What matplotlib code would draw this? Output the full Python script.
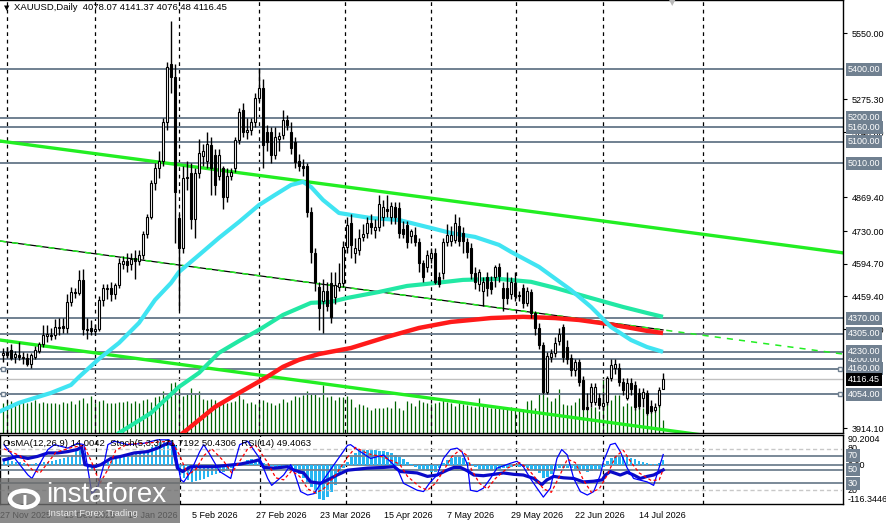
import matplotlib
matplotlib.use('Agg')
import matplotlib.pyplot as plt
from matplotlib.transforms import blended_transform_factory
from matplotlib.patches import Rectangle, Circle

plt.rcParams['font.family'] = ['Liberation Sans', 'DejaVu Sans']

# ---- XAUUSD daily candles (open, high, low, close) ----
opens = [4217, 4230, 4238, 4210, 4215, 4205, 4205, 4180, 4210, 4235,
         4262, 4296, 4300, 4300, 4330, 4337, 4330, 4437, 4478, 4474,
         4528, 4325, 4330, 4318, 4325, 4445, 4490, 4495, 4470, 4505,
         4595, 4605, 4595, 4620, 4605, 4630, 4720, 4790, 4930, 4990,
         5020, 5180, 5420, 5370, 4785, 4660, 4950, 4970, 4780, 4970,
         5040, 5020, 5087, 5045, 4960, 4990, 4870, 4960, 4990, 5107,
         5232, 5141, 5150, 5180, 5281, 5323, 5141, 5141, 5045, 5110,
         5130, 5190, 5140, 5100, 5020, 5000, 5000, 4810, 4640, 4500,
         4440, 4480, 4515, 4457, 4500, 4515, 4664, 4764, 4640, 4650,
         4705, 4722, 4764, 4735, 4745, 4790, 4820, 4790, 4830, 4826,
         4740, 4755, 4710, 4715, 4685, 4598, 4580, 4620, 4640, 4540,
         4557, 4685, 4690, 4693, 4750, 4722, 4685, 4660, 4557, 4510,
         4480, 4540, 4520, 4540, 4580, 4495, 4495, 4470, 4515, 4465,
         4495, 4433, 4478, 4391, 4329, 4259, 4064, 4210, 4226, 4275,
         4333, 4250, 4205, 4155, 4188, 4114, 4000, 4023, 4023, 4040,
         4005, 4023, 4122, 4165, 4163, 4106, 4040, 4100, 4093, 4060,
         4040, 4060, 4005, 3990, 4010, 4078.07]
highs = [4245, 4250, 4262, 4235, 4270, 4230, 4225, 4225, 4255, 4270,
         4340, 4340, 4330, 4365, 4370, 4370, 4470, 4500, 4495, 4570,
         4575, 4370, 4360, 4345, 4460, 4510, 4510, 4520, 4515, 4620,
         4625, 4640, 4640, 4650, 4650, 4730, 4800, 4940, 5010, 5060,
         5200, 5430, 5600, 5420, 4800, 5000, 5020, 5010, 4990, 5110,
         5090, 5140, 5120, 5070, 5070, 5000, 4990, 4990, 5120, 5240,
         5260, 5200, 5200, 5300, 5405, 5360, 5170, 5160, 5160, 5140,
         5230, 5210, 5180, 5120, 5050, 5030, 5010, 4830, 4660, 4520,
         4530, 4520, 4560, 4560, 4600, 4690, 4790, 4800, 4700, 4740,
         4760, 4790, 4800, 4780, 4880, 4860, 4880, 4850, 4850, 4850,
         4770, 4770, 4740, 4745, 4700, 4610, 4650, 4660, 4660, 4560,
         4700, 4760, 4750, 4800, 4790, 4745, 4700, 4680, 4580, 4575,
         4540, 4560, 4545, 4590, 4600, 4520, 4560, 4540, 4560, 4480,
         4510, 4500, 4490, 4400, 4350, 4270, 4230, 4240, 4290, 4330,
         4345, 4280, 4220, 4200, 4200, 4130, 4060, 4100, 4100, 4060,
         4060, 4130, 4200, 4200, 4185, 4120, 4120, 4120, 4110, 4080,
         4080, 4070, 4030, 4020, 4085, 4141.37]
lows = [4190, 4205, 4195, 4185, 4195, 4180, 4170, 4165, 4200, 4225,
        4250, 4270, 4280, 4285, 4300, 4310, 4310, 4420, 4455, 4465,
        4300, 4285, 4300, 4300, 4315, 4420, 4450, 4440, 4450, 4495,
        4575, 4560, 4570, 4530, 4590, 4615, 4700, 4780, 4900, 4950,
        5000, 5150, 5300, 4680, 4404, 4640, 4900, 4740, 4700, 4950,
        5000, 4990, 4880, 4880, 4940, 4820, 4850, 4940, 4975, 5090,
        5120, 5110, 5130, 5160, 5270, 4990, 5060, 5010, 5030, 5060,
        5110, 5150, 5050, 4990, 4980, 4960, 4790, 4600, 4480, 4320,
        4308, 4400, 4350, 4430, 4480, 4500, 4640, 4620, 4600, 4630,
        4690, 4700, 4720, 4700, 4730, 4750, 4790, 4760, 4760, 4700,
        4700, 4660, 4680, 4670, 4560, 4520, 4560, 4600, 4510, 4500,
        4530, 4670, 4670, 4680, 4670, 4640, 4620, 4530, 4490, 4480,
        4420, 4460, 4470, 4500, 4520, 4400, 4430, 4450, 4440, 4440,
        4410, 4420, 4370, 4300, 4240, 4055, 4055, 4190, 4210, 4260,
        4190, 4180, 4130, 4130, 4090, 3990, 3990, 4000, 4010, 3995,
        3990, 4010, 4110, 4140, 4090, 4050, 4030, 4050, 3990, 3995,
        4000, 3970, 3975, 3980, 4000, 4076.48]
closes = [4226, 4215, 4205, 4222, 4210, 4210, 4180, 4215, 4238, 4262,
          4298, 4302, 4296, 4333, 4335, 4327, 4437, 4478, 4474, 4528,
          4325, 4320, 4318, 4325, 4445, 4495, 4495, 4470, 4505, 4600,
          4605, 4590, 4615, 4605, 4630, 4720, 4790, 4930, 4990, 5020,
          5180, 5410, 5370, 4890, 4660, 4950, 4955, 4780, 4970, 5055,
          5060, 5090, 4990, 4921, 5045, 4870, 4960, 4975, 5107, 5223,
          5141, 5150, 5180, 5281, 5323, 5087, 5100, 5045, 5120, 5125,
          5190, 5170, 5075, 5016, 5000, 4990, 4810, 4644, 4520, 4412,
          4480, 4420, 4375, 4507, 4515, 4664, 4755, 4673, 4660, 4702,
          4720, 4764, 4745, 4745, 4842, 4830, 4815, 4835, 4790, 4722,
          4720, 4685, 4730, 4685, 4598, 4540, 4630, 4640, 4520, 4510,
          4685, 4714, 4714, 4764, 4690, 4690, 4644, 4557, 4520, 4560,
          4520, 4495, 4490, 4580, 4545, 4453, 4453, 4520, 4460, 4460,
          4433, 4480, 4391, 4329, 4259, 4064, 4213, 4225, 4267, 4305,
          4209, 4200, 4155, 4190, 4106, 3994, 3995, 4085, 4085, 4010,
          4020, 4122, 4176, 4180, 4106, 4072, 4100, 4075, 4002, 4005,
          4065, 3977, 3985, 4000, 4072, 4116.45]

# tick volume (thousands)
volume = [30, 33, 32, 30, 30, 32, 30, 31, 33, 30,
          31, 30, 30, 30, 29, 31, 30, 32, 29, 33,
          35, 30, 37, 30, 32, 33, 30, 30, 30, 31,
          31, 32, 30, 32, 30, 33, 34, 31, 36, 37,
          42, 38, 50, 51, 48, 37, 40, 45, 39, 42,
          34, 33, 34, 33, 30, 32, 30, 31, 32, 38,
          34, 30, 31, 29, 32, 33, 31, 30, 28, 30,
          34, 31, 33, 37, 36, 38, 42, 40, 39, 36,
          48, 36, 37, 33, 36, 36, 37, 34, 26, 29,
          28, 26, 23, 25, 25, 25, 26, 25, 32, 25,
          23, 32, 30, 27, 33, 31, 30, 29, 30, 31,
          33, 31, 30, 27, 30, 29, 28, 27, 26, 35,
          27, 26, 25, 25, 25, 25, 24, 26, 25, 22,
          24, 32, 33, 25, 40, 43, 36, 32, 35, 44,
          29, 28, 28, 31, 35, 33, 33, 26, 26, 22,
          56, 33, 33, 38, 38, 27, 30, 27, 25, 30,
          25, 22, 25, 22, 30, 13]

# moving averages (bar index, price)
ma_fast_idx = [-1, 4, 12, 17, 19, 24, 29, 34, 38, 42, 44, 49, 54, 59, 64, 68, 72, 75,
               77, 80, 84, 92, 99, 107, 112, 118, 124, 127, 134, 142, 147, 152, 157, 161, 165]
ma_fast = [3982, 4019, 4060, 4093, 4126, 4201, 4267, 4350, 4445, 4515, 4561, 4631, 4702,
           4768, 4838, 4880, 4921, 4934, 4913, 4859, 4805, 4784, 4776, 4743, 4722, 4706,
           4673, 4644, 4582, 4486, 4416, 4333, 4279, 4250, 4230]
ma_mid_idx = [27, 29, 37, 44, 49, 54, 59, 64, 70, 77, 82, 86, 94, 101, 108, 115, 124,
              132, 138, 147, 155, 161, 165]
ma_mid = [3865, 3894, 3977, 4085, 4143, 4226, 4275, 4321, 4383, 4433, 4437, 4453, 4478,
          4503, 4515, 4528, 4532, 4520, 4495, 4453, 4416, 4391, 4375]
ma_slow_idx = [43, 45, 53, 59, 66, 70, 74, 79, 87, 96, 104, 112, 122, 130, 138, 144,
               151, 157, 161, 165]
ma_slow = [3865, 3894, 4002, 4060, 4126, 4168, 4197, 4221, 4246, 4292, 4329, 4354, 4370,
           4375, 4370, 4362, 4346, 4329, 4317, 4308]

# trend channel (bar index, price)
trend_idx = [-0.75, 210]
trend_upper = [5103, 4640]
trend_middle = [4689, 4221]
trend_lower = [4279, 3807]

levels = [4200, 5400, 5200, 5160, 5100, 5010, 4370, 4305, 4230, 4160, 4054]
last_price = 4116.45
price_ticks = [5550.00, 5275.30, 5140.00, 4869.40, 4730.00, 4594.70,
               4459.40, 4324.10, 3914.10]
grid_idx = [1, 23, 44, 64, 85.5, 107, 128.25, 150, 175]
date_idx = [-1, 15, 31, 47, 63, 79, 95, 111, 127, 143, 159]
date_labels = ['27 Nov 2025', '19 Dec 2025', '14 Jan 2026', '5 Feb 2026', '27 Feb 2026',
               '23 Mar 2026', '15 Apr 2026', '7 May 2026', '29 May 2026', '22 Jun 2026',
               '14 Jul 2026']

# OsMA(12,26,9) histogram
osma = [12, 14, 13, 10, 8, 6, 4, 3, 5, 7,
        8, 10, 12, 15, 18, 22, 25, 30, 42, 55,
        35, -8, -12, -10, -4, 4, 10, 14, 18, 22,
        25, 27, 30, 33, 36, 42, 48, 55, 60, 68,
        72, 78, 75, 60, -30, -40, -45, -50, -48, -45,
        -42, -35, -30, -28, -25, -22, -18, -10, -2, 5,
        10, 14, 18, 15, 12, 5, 0, -3, -5, -6,
        -5, -8, -12, -20, -28, -38, -50, -65, -85, -100,
        -105, -95, -80, -60, -30, -10, 10, 25, 35, 42,
        45, 45, 44, 45, 43, 42, 40, 35, 30, 25,
        18, 10, 2, -5, -12, -15, -18, -20, -20, -10,
        5, 15, 20, 23, 23, 20, 10, 2, -5, -12,
        -15, -18, -18, -15, -12, -10, -8, -5, -4, -5,
        -5, -8, -12, -18, -25, -40, -35, -28, -18, -10,
        -8, -8, -10, -12, -15, -18, -20, -18, -15, -12,
        -5, 12, 22, 27, 28, 27, 25, 20, 17, 13,
        10, 5, 3, 2, 5, 14.0042]

# Stochastic(5,3,3) main and signal (bar index, value)
stoch_idx = [0, 3.4, 6, 7, 9.7, 11, 12.6, 16, 18.4, 20, 22, 23.4, 25, 26, 27.6, 31, 35,
             38.4, 41.3, 42.6, 44.25, 45, 46.75, 49, 50, 51.3, 54, 56.75, 57.6, 59, 61, 64,
             66, 67, 70, 71.75, 72.6, 74.25, 76, 77.6, 79, 82.6, 86, 86.75, 88.4, 91.75, 95,
             98.4, 100, 103.4, 105, 106.75, 108.4, 110, 111.75, 113.4, 114.6, 116, 116.75,
             118.4, 120, 121.75, 123.4, 126.75, 128.4, 130, 131.75, 133.4, 135, 136.75,
             138.4, 139.6, 141, 142.6, 144.25, 146, 147.6, 149.25, 150, 151.75, 153, 154.25,
             156, 157.6, 161, 162.6, 163.4, 165]
stoch_main = [86, 61, 42, 37, 66, 79, 86, 81, 88, 86, 15, 23, 57, 86, 91, 86, 88,
              93, 93, 86, 35, 32, 47, 76, 86, 74, 47, 37, 57, 86, 91, 66,
              37, 27, 42, 57, 47, 18, 13, 15, 27, 57, 85, 86, 79, 66, 71,
              52, 30, 20, 18, 32, 42, 66, 79, 81, 76, 57, 20,
              18, 23, 37, 52, 59, 62, 54, 37, 23, 10, 23,
              66, 79, 71, 37, 18, 13, 18, 42, 61, 86, 88, 76,
              52, 37, 32, 27, 42, 71.7192]
signal_idx = [0, 4, 7, 9, 11, 13, 17, 20, 22, 24, 26, 28, 31, 35, 39, 42, 44, 46, 48, 50,
              52, 55, 57, 59, 61, 63, 66, 68, 70, 72, 74, 76, 78, 80, 83, 86, 88, 91, 95,
              99, 101, 104, 106, 108, 110, 112, 114, 116, 117, 119, 121, 123, 126, 129, 131,
              133, 135, 137, 139, 141, 143, 145, 147, 149, 151, 153, 155, 157, 159, 162, 164,
              165]
stoch_signal = [80, 70, 50, 45, 60, 75, 82, 85, 60, 30, 50, 78, 87, 88, 90, 91, 70, 42, 50,
                70, 80, 62, 45, 62, 80, 85, 60, 38, 35, 48, 40, 22, 16, 22, 42, 68, 82, 73,
                68, 58, 40, 25, 20, 30, 48, 68, 78, 70, 50, 30, 22, 37, 52, 60, 52, 38, 22,
                17, 40, 65, 60, 35, 17, 22, 42, 68, 78, 60, 45, 34, 35, 50.4306]

# RSI(14) (bar index, value)
rsi_idx = [0, 3.4, 6, 8.4, 11, 13.4, 16, 18.4, 19.4, 20.25, 22.6, 24.25, 26.75, 29.25,
           32.6, 36, 38.4, 41, 42.2, 43.4, 44.7, 46.75, 52.6, 59.25, 62.6, 63.8, 65, 67.6,
           71, 72.6, 75, 76.75, 79.25, 81.75, 83.4, 86, 91, 95, 97.6, 99.25, 103.4, 106,
           108.4, 110.9, 112.6, 114.25, 116, 117.6, 120, 122.6, 125, 127.6, 130, 132.6,
           134.6, 135.9, 137.6, 140, 142.6, 145, 147.6, 149.75, 150.5, 151.75, 154.25, 156,
           157.6, 159.25, 161, 162.6, 164.25, 165]
rsi = [64, 69, 66, 69, 74, 74, 76, 79, 83, 57, 54, 57, 66, 69,
       74, 76, 81, 88, 86, 52, 47, 54, 54, 58, 62, 64, 53, 52,
       54, 49, 45, 32, 30, 37, 42, 49, 52, 53, 54, 47, 45, 40,
       42, 49, 53, 53, 48, 42, 41, 43, 45, 43, 42, 37,
       28, 35, 40, 38, 37, 32, 33, 35, 42, 47, 42, 46,
       42, 37, 40, 42, 47, 49.4063]

stoch_levels = [70, 50, 30]
stoch_dotted = [80, 20]
osma_range = (-116.3446, 90.2004)

W, H = 887, 523
fig = plt.figure(figsize=(W / 100, H / 100), dpi=100)
fig.patch.set_facecolor('white')

# ---------------- main price panel ----------------
ax = fig.add_axes([0, 1 - 433 / H, 843 / W, 433 / H])
axv = ax.twinx()
axv.set_zorder(ax.get_zorder() - 1)
ax.patch.set_visible(False)
axv.set_ylim(0, 433)
axv.set_axis_off()
bars = list(range(len(closes)))
axv.vlines(bars, 0, volume, color='#006400', lw=0.9)

ax.set_xlim(-0.75, 210)
ax.set_ylim(3894, 5687)
for g in grid_idx:
    ax.axvline(g, color='black', lw=0.9, ls=(0, (3, 3)), zorder=1)

for lv in levels:
    ax.axhline(lv, color='#708090', lw=1.4, zorder=1.5)
ax.axhline(last_price, color='#c0c0c0', lw=1, zorder=1.5)
for lv in (4160, 4054):
    ax.plot([0.1, 209.3], [lv, lv], ls='none', marker='s', ms=3.5, mfc='white',
            mec='#708090', mew=1, clip_on=False, zorder=3)

ax.plot(trend_idx, trend_upper, color='#22ee22', lw=2.4, zorder=2)
ax.plot(trend_idx, trend_lower, color='#22ee22', lw=2.4, zorder=2)
ax.plot([trend_idx[0], 165], [trend_middle[0],
        trend_middle[0] + (trend_middle[1] - trend_middle[0]) * (165.75 / 210.75)],
        color='black', lw=0.9, zorder=2)
ax.plot(trend_idx, trend_middle, color='#22ee22', lw=1.1, ls=(0, (4, 4)), zorder=2.1)

ax.plot(ma_mid_idx, ma_mid, color='#22e8a4', lw=3, zorder=3, solid_capstyle='butt')
ax.plot(ma_slow_idx, ma_slow, color='#ff1a1a', lw=3.2, zorder=3, solid_capstyle='butt')
ax.plot(ma_fast_idx, ma_fast, color='#40e4f2', lw=3, zorder=3, solid_capstyle='butt')

body_lo = [min(o, c) for o, c in zip(opens, closes)]
body_h = [max(abs(c - o), 2.5) for o, c in zip(opens, closes)]
body_col = ['white' if c >= o else 'black' for o, c in zip(opens, closes)]
ax.vlines(bars, lows, highs, color='black', lw=1, zorder=4)
ax.bar(bars, body_h, bottom=body_lo, width=0.72, color=body_col, edgecolor='black',
       lw=0.8, zorder=5)

ax.yaxis.tick_right()
ax.set_yticks(price_ticks)
ax.set_yticklabels(['%.2f' % t for t in price_ticks])
ax.tick_params(axis='y', labelsize=6.5, length=3, pad=3, colors='black')
ax.set_xticks([])
for s in ax.spines.values():
    s.set_color('black')
    s.set_linewidth(1)
ax.spines['left'].set_visible(False)

tr = blended_transform_factory(ax.transAxes, ax.transData)
for lv in levels:
    ax.text(1 + 5 / 843, lv, '%.2f' % lv, transform=tr, fontsize=6.5, color='white',
            va='center', ha='left', zorder=10,
            bbox=dict(boxstyle='square,pad=0.22', fc='#708090', ec='none'))
ax.text(1 + 5 / 843, last_price, '%.2f' % last_price, transform=tr, fontsize=6.5,
        color='white', va='center', ha='left', zorder=11,
        bbox=dict(boxstyle='square,pad=0.22', fc='black', ec='none'))

fig.text(4 / W, 1 - 8 / H, '\u25bc', fontsize=5, color='black', va='center', ha='left',
         family=['DejaVu Sans'])
fig.text(14 / W, 1 - 8 / H,
         'XAUUSD,Daily  %.2f %.2f %.2f %.2f' % (opens[-1], highs[-1], lows[-1], closes[-1]),
         fontsize=6.8, color='black', va='center', ha='left')
fig.text(672 / W, 1 - 3 / H, '\u25bc', fontsize=6, color='#b8b8b8', va='center',
         ha='center', family=['DejaVu Sans'])

# ---------------- indicator panel ----------------
ax2 = fig.add_axes([0, 1 - 504 / H, 843 / W, 69 / H])
ax2.set_xlim(-0.75, 210)
ax2.set_ylim(*osma_range)
ax2.bar(bars, osma, width=0.62, color='#27b6f2', zorder=2)
ax2.axhline(0, color='#708090', lw=1.3, zorder=1.5)
for g in grid_idx:
    ax2.axvline(g, color='black', lw=0.9, ls=(0, (3, 3)), zorder=1)
ax2.set_yticks([])
ax2.set_xticks(date_idx)
ax2.set_xticklabels(date_labels)
ax2.tick_params(axis='x', labelsize=6.5, length=0, pad=5)
for lbl in ax2.get_xticklabels():
    lbl.set_ha('left')
for s in ax2.spines.values():
    s.set_color('black')
    s.set_linewidth(1)

ax3 = ax2.twinx()
ax3.set_ylim(0, 100)
ax3.set_axis_off()
for lv in stoch_dotted:
    ax3.axhline(lv, color='#c8c8c8', lw=1, ls=(0, (3, 2)), zorder=1)
for lv in stoch_levels:
    ax3.axhline(lv, color='#708090', lw=1.3, zorder=1)
ax3.plot(rsi_idx, rsi, color='#0a0ac8', lw=2.3, zorder=3)
ax3.plot(stoch_idx, stoch_main, color='#0000ff', lw=0.9, zorder=4)
ax3.plot(signal_idx, stoch_signal, color='#ff0000', lw=0.9, ls=(0, (2.5, 2)), zorder=4)

tr2 = blended_transform_factory(ax2.transAxes, ax2.transData)
tr3 = blended_transform_factory(ax3.transAxes, ax3.transData)
ax2.text(1 + 5 / 843, osma_range[1], '%.4f' % osma_range[1], transform=tr2, fontsize=6.5,
         va='top', ha='left')
ax2.text(1 + 5 / 843, osma_range[0], '%.4f' % osma_range[0], transform=tr2, fontsize=6.5,
         va='bottom', ha='left')
ax2.text(1 + 5 / 843, 0, '0.00', transform=tr2, fontsize=6.5, va='center', ha='left')
for lv in stoch_dotted:
    ax3.text(1 + 5 / 843, lv, '%d' % lv, transform=tr3, fontsize=6.5, va='center', ha='left')
for lv in stoch_levels:
    ax3.text(1 + 5 / 843, lv, '%d' % lv, transform=tr3, fontsize=6.5, color='white',
             va='center', ha='left', zorder=10,
             bbox=dict(boxstyle='square,pad=0.2', fc='#708090', ec='none'))
ax3.text(3 / 843, 0.88, 'OsMA(12,26,9) %.4f  Stoch(5,3,3) %.4f %.4f  RSI(14) %.4f'
         % (osma[-1], stoch_main[-1], stoch_signal[-1], rsi[-1]), transform=ax3.transAxes,
         fontsize=6.8, va='center', ha='left', zorder=6)

# ---------------- watermark ----------------
fig.patches.append(Rectangle((0, 0), 180 / W, 45 / H, transform=fig.transFigure,
                             fc='#6e6e6e', ec='none', alpha=0.8, zorder=20))
fig.patches.append(Circle((24 / W, 1 - 499 / H), 14 / W, transform=fig.transFigure,
                          fc='none', ec='white', lw=3.2, zorder=21))
fig.text(24 / W, 1 - 500 / H, 'i', fontsize=15, fontweight='bold', color='white',
         ha='center', va='center', zorder=22)
fig.text(46 / W, 1 - 495 / H, 'instaforex', fontsize=20, color='white', ha='left',
         va='center', zorder=22)
fig.text(48 / W, 1 - 513 / H, 'Instant Forex Trading', fontsize=6.8, color='#e8e8e8',
         ha='left', va='center', zorder=22)

fig.savefig('out.png', dpi=100)
